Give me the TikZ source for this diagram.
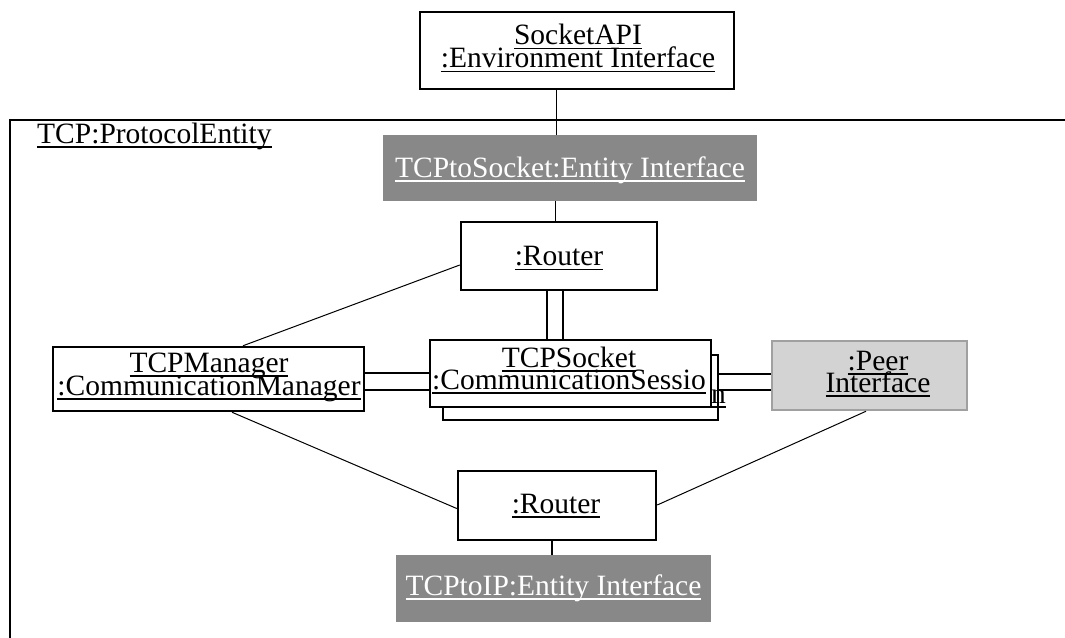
\documentclass[tikz,border=0pt]{standalone}
\usepackage{fontspec}
\setmainfont{Liberation Serif}
\usetikzlibrary{calc}
% underlined text with a fixed rule just under the baseline
\newcommand\uln[1]{\setbox0=\hbox{#1}\rlap{\vrule width\wd0 height -3pt depth 4.6pt}\box0}
\definecolor{ifgray}{HTML}{888888}
\definecolor{peerfill}{HTML}{D3D3D3}
\definecolor{peerline}{HTML}{A0A0A0}
\tikzset{
  box/.style={draw, line width=2.5pt, fill=white, inner sep=0pt},
  ifbox/.style={fill=ifgray, inner sep=0pt},
  peerbox/.style={draw=peerline, fill=peerfill, line width=2.5pt, inner sep=0pt},
  lbl/.style={anchor=base, inner sep=0pt},
  wlbl/.style={lbl, text=white},
  link/.style={line width=1pt},
  blink/.style={line width=2pt},
  frame/.style={line width=2.5pt}
}
\begin{document}
\begin{tikzpicture}[x=1pt,y=-1pt,font=\fontsize{29.5}{23}\selectfont]
\useasboundingbox (0,0) rectangle (1065,637);

% enclosing protocol entity
\draw[frame] (1065,120) -- (10,120) -- (10,640);

% boxes
\node[box, minimum width=314pt, minimum height=77pt] (api) at (577,50.5) {};
\node[ifbox, minimum width=374pt, minimum height=66pt] (tts) at (570,168) {};
\node[box, minimum width=196pt, minimum height=68pt] (r1) at (559,256) {};
\node[box, minimum width=275pt, minimum height=65pt] (sockB) at (580.5,387.5) {};
\node[box, minimum width=281pt, minimum height=67pt] (sock) at (570.5,373.5) {};
\node[box, minimum width=311pt, minimum height=64pt] (mgr) at (208.5,379) {};
\node[peerbox, minimum width=195pt, minimum height=69pt] (peer) at (869.5,375.5) {};
\node[box, minimum width=198pt, minimum height=69pt] (r2) at (557,505.5) {};
\node[ifbox, minimum width=315pt, minimum height=67pt] (tti) at (553.5,588.5) {};

% connectors
\draw[link] ([xshift=-20.5pt]api.south) -- ([xshift=-20.5pt]api.south |- tts.north);
\draw[link] ([xshift=-3.5pt]r1.north) -- ([xshift=-3.5pt]r1.north |- tts.south);
\draw[blink] ([xshift=-12.5pt]r1.south) -- ([xshift=-12.5pt]r1.south |- sock.north);
\draw[blink] ([xshift=4pt]r1.south) -- ([xshift=4pt]r1.south |- sock.north);
\draw[blink] ([yshift=6pt]mgr.east) -- ([yshift=6pt]mgr.east -| sock.west);
\draw[blink] ([yshift=-11pt]mgr.east) -- ([yshift=-11pt]mgr.east -| sock.west);
\draw[blink] ([yshift=-0.5pt]sock.east -| sockB.east) -- ([yshift=-0.5pt]sock.east -| peer.west);
\draw[blink] ([yshift=-16pt]sock.east -| sockB.east) -- ([yshift=-16pt]sock.east -| peer.west);
\draw[link] ([yshift=-9pt]r1.west) -- ([xshift=34.5pt]mgr.north);
\draw[link] ([xshift=23.5pt]mgr.south) -- ([yshift=-3pt]r2.west);
\draw[link] ([xshift=-3.5pt]peer.south) -- ([yshift=0.5pt]r2.east);
\draw[blink] ([xshift=-5pt]r2.south) -- ([xshift=-5pt]r2.south |- tti.north);

% labels
\node[lbl, anchor=base west] (pe) at (37,143) {\uln{TCP:ProtocolEntity}};
\node[lbl] (apiA) at (578,44.5) {\uln{SocketAPI}};
\node[lbl] (apiB) at (578,67.5) {\uln{:Environment Interface}};
\node[wlbl] (ttsT) at (570,177) {\uln{TCPtoSocket:Entity Interface}};
\node[lbl] (r1T) at (559,265.5) {\uln{:Router}};
\node[lbl] (sockA) at (569,367) {\uln{TCPSocket}};
\node[lbl] (sockC) at (569,389) {\uln{:CommunicationSessio}};
\node[lbl, anchor=base west] (sockN) at (711,403) {\uln{n}};
\node[lbl] (mgrA) at (209,372) {\uln{TCPManager}};
\node[lbl] (mgrB) at (209,395) {\uln{:CommunicationManager}};
\node[lbl] (peerA) at (878,370) {\uln{:Peer}};
\node[lbl] (peerB) at (878,392) {\uln{Interface}};
\node[lbl] (r2T) at (556,513) {\uln{:Router}};
\node[wlbl] (ttiT) at (553.5,595) {\uln{TCPtoIP:Entity Interface}};
\end{tikzpicture}
\end{document}
